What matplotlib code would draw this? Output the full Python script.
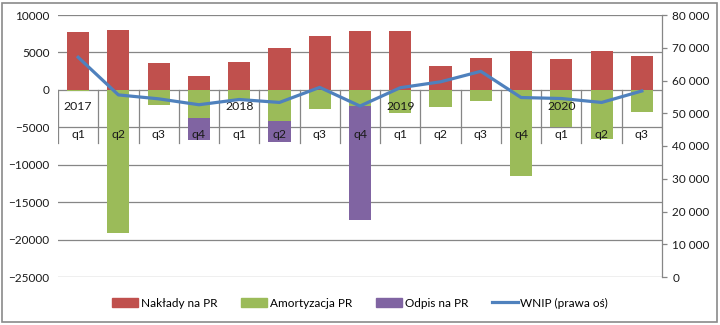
import matplotlib
matplotlib.use("Agg")
import matplotlib.pyplot as plt
from matplotlib.patches import Rectangle
from matplotlib.lines import Line2D
import numpy as np

plt.rcParams['font.family'] = ['Lato', 'DejaVu Sans']

quarters = ["q1", "q2", "q3", "q4", "q1", "q2", "q3", "q4",
            "q1", "q2", "q3", "q4", "q1", "q2", "q3"]
years = ["2017", "", "", "", "2018", "", "", "",
         "2019", "", "", "", "2020", "", ""]

naklady = [7700, 8000, 3550, 1800, 3700, 5600, 7250, 7900,
           7900, 3150, 4250, 5200, 4100, 5200, 4500]
amortyzacja = [-200, -19100, -2000, -3700, -1300, -4150, -2500, -2150,
               -3150, -2350, -1550, -11550, -4900, -6550, -3000]
odpis = [0, 0, 0, -2950, 0, -2800, 0, -15250,
         0, 0, 0, 0, 0, 0, 0]
wnip = [67100, 55600, 54400, 52600, 54200, 53300, 57900, 52200,
        57800, 59600, 62800, 54800, 54500, 53300, 56800]

c_red = "#C0504D"
c_green = "#9BBB59"
c_purple = "#8064A2"
c_blue = "#4F81BD"
c_grid = "#868686"
c_text = "#1a1a1a"

fig = plt.figure(figsize=(7.2, 3.25), dpi=100)
ax = fig.add_axes([58/720, 1-277/325, (662-58)/720, (277-15)/325])
ax2 = ax.twinx()

x = np.arange(len(quarters))
w = 0.55
ax.bar(x, naklady, width=w, color=c_red, zorder=2)
ax.bar(x, amortyzacja, width=w, color=c_green, zorder=2)
ax.bar(x, odpis, width=w, bottom=amortyzacja, color=c_purple, zorder=2)

ax.set_xlim(-0.5, len(quarters) - 0.5)
ax.set_ylim(-25000, 10000)
ax.set_yticks(np.arange(-25000, 10001, 5000))
ax.yaxis.grid(True, color=c_grid, linewidth=0.9, zorder=0)
ax.set_axisbelow(True)
ax.tick_params(axis='y', length=0, pad=6, labelsize=8.5, colors=c_text)
ax.set_xticks([])
for s in ax.spines.values():
    s.set_visible(False)

# two-row category labels (year / quarter) hanging below the zero line
for b in np.arange(-0.5, len(quarters), 1.0):
    ax.plot([b, b], [0, -7050], color=c_grid, linewidth=0.9, zorder=1)
for i, (yr, q) in enumerate(zip(years, quarters)):
    if yr:
        ax.text(i, -2250, yr, ha='center', va='center', fontsize=8.8,
                color=c_text, zorder=5)
    ax.text(i, -5950, q, ha='center', va='center', fontsize=8.8,
            color=c_text, zorder=5)

ax2.plot(x, wnip, color=c_blue, linewidth=2.3, zorder=4,
         solid_joinstyle='round')
ax2.set_ylim(0, 80000)
right_ticks = np.arange(0, 80001, 10000)
ax2.set_yticks(right_ticks)
ax2.set_yticklabels([f"{v:,.0f}".replace(",", " ") for v in right_ticks])
ax2.tick_params(axis='y', direction='out', length=3.5, width=0.9,
                color=c_grid, pad=4, labelsize=8.5, labelcolor=c_text)
for k, s in ax2.spines.items():
    s.set_visible(k == 'right')
ax2.spines['right'].set_color(c_grid)
ax2.spines['right'].set_linewidth(0.9)

handles = [
    Rectangle((0, 0), 1, 1, color=c_red),
    Rectangle((0, 0), 1, 1, color=c_green),
    Rectangle((0, 0), 1, 1, color=c_purple),
    Line2D([0], [0], color=c_blue, linewidth=2.3),
]
labels = ["Nakłady na PR", "Amortyzacja PR", "Odpis na PR", "WNIP (prawa oś)"]
fig.legend(handles, labels, loc='center', bbox_to_anchor=(0.5, 1-303/325),
           ncol=4, frameon=False, fontsize=8.5, handlelength=2.2,
           handleheight=0.7, handletextpad=0.25, columnspacing=2.0)

fig.patches.append(Rectangle((2/720, 3/325), 715/720, 319/325,
                             transform=fig.transFigure, fill=False,
                             edgecolor="#8a8a8a", linewidth=1.2))

fig.savefig("out.png", dpi=100)
